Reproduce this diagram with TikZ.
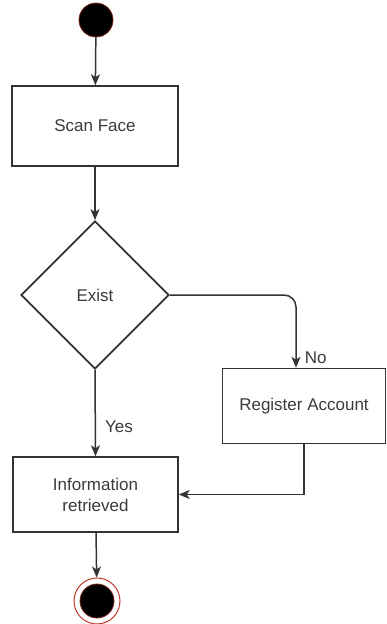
\documentclass[tikz,border=0pt]{standalone}
\usepackage{fontspec}
\setmainfont{Liberation Sans}
\usetikzlibrary{shapes.geometric,arrows.meta}
\definecolor{ln}{HTML}{333333}
\definecolor{txt}{HTML}{3A3A3A}
\definecolor{ring}{HTML}{C0392B}
\begin{document}
\begin{tikzpicture}[x=1pt,y=-1pt,
  every node/.style={font=\fontsize{17}{21}\selectfont, text=txt},
  box/.style={draw=ln, line width=1.5pt, rectangle, inner sep=0pt, align=center},
  conn/.style={draw=ln, line width=1.5pt, -{Stealth[length=11pt,width=9pt,inset=3pt]}},
  lbl/.style={inner sep=0pt}]
\useasboundingbox (0,0) rectangle (387,624);
% start
\node[circle, fill=black, draw=ring!60!black, line width=0.8pt, minimum size=34pt, inner sep=0pt] (start) at (96,20) {};
\node[box, minimum width=166pt, minimum height=80pt] (scan) at (95,126) {Scan Face};
\node[box, diamond, minimum width=148pt, minimum height=148pt, aspect=1, line width=1.8pt] (exist) at (95,295) {};
\node at (95,295) {Exist};
\node[box, minimum width=163pt, minimum height=75pt] (reg) at (304,406) {Register Account};
\node[box, minimum width=165pt, minimum height=75pt] (info) at (95.5,494.5) {Information\\retrieved};
% end
\node[circle, draw=ring, line width=1pt, minimum size=46pt, inner sep=0pt] (endo) at (97,601) {};
\node[circle, fill=black, draw=ring!60!black, line width=0.8pt, minimum size=34pt, inner sep=0pt] (endi) at (97,601) {};
\coordinate (regin) at ([xshift=-8pt]reg.north);
% connectors
\draw[conn] (start) -- (scan);
\draw[conn] (scan) -- (exist.north);
\draw[conn] (exist.south) -- (info.north) node[lbl, pos=0.66, right=9pt] {Yes};
\draw[conn, rounded corners=12pt] (exist.east) -| (regin) node[lbl, pos=0.93, right=8pt] {No};
\draw[conn] (reg.south) |- (info.east);
\draw[conn] (info) -- (endo);
\end{tikzpicture}
\end{document}
